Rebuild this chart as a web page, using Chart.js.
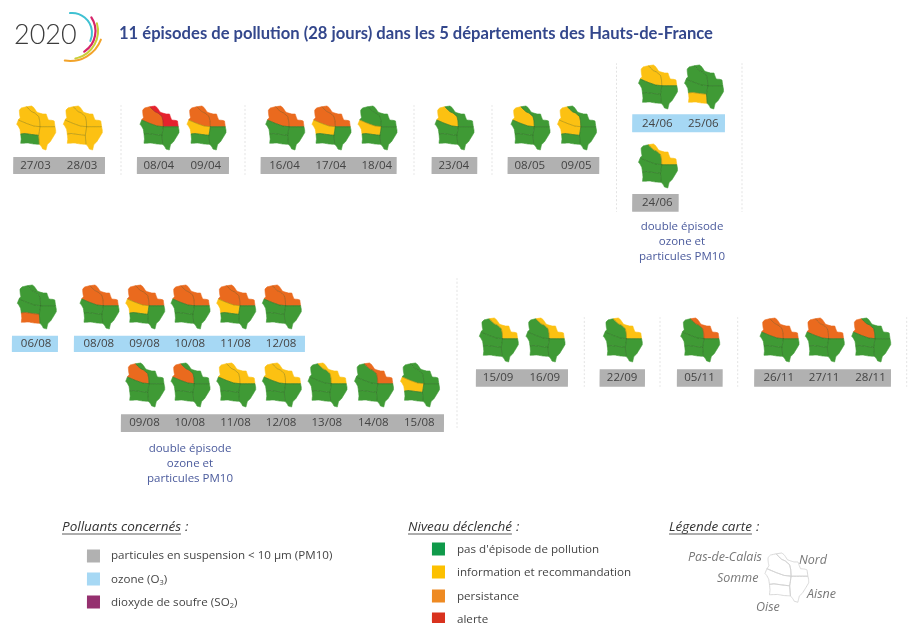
<!DOCTYPE html>
<html lang="fr"><head><meta charset="utf-8">
<script src="https://cdn.jsdelivr.net/npm/chart.js@4"></script>
<style>html,body{margin:0;padding:0;background:#fff}canvas{display:block}</style>
</head><body><canvas id="c" width="912" height="623"></canvas>
<script>
// ---- data: one entry per small map. Levels: 0 none, 1 information, 2 persistance, 3 alerte
const mapDates = ["27/03","28/03","08/04","09/04","16/04","17/04","18/04","23/04","08/05","09/05","24/06","25/06","24/06","06/08","08/08","09/08","10/08","11/08","12/08","09/08","10/08","11/08","12/08","13/08","14/08","15/08","15/09","16/09","22/09","05/11","26/11","27/11","28/11"];
const pasDeCalais = [1,1,2,2,2,2,0,1,1,1,1,0,0,0,2,2,2,2,2,2,2,1,1,0,0,0,0,0,0,0,2,2,2];
const nord        = [1,1,3,2,2,2,0,0,0,0,1,0,1,0,2,2,2,2,2,0,0,1,1,1,2,0,1,1,1,2,2,2,0];
const somme       = [1,1,0,1,0,1,1,0,0,1,0,0,0,0,0,1,0,1,0,0,0,0,0,0,0,1,0,0,0,0,0,0,0];
const oise        = [0,1,0,0,0,0,0,0,0,0,0,1,0,2,0,0,0,0,0,0,0,0,0,0,0,0,0,0,0,0,0,0,0];
const aisne       = [1,1,0,0,0,0,0,0,0,0,0,0,0,0,0,0,0,0,0,0,0,0,0,0,0,0,0,0,0,0,0,0,0];
const pollutantLabels = ["particules en suspension < 10 µm (PM10)","ozone (O","dioxyde de soufre (SO"];
const levelLabels = ["pas d'épisode de pollution","information et recommandation","persistance","alerte"];
const departmentLabels = ["Pas-de-Calais","Nord","Somme","Aisne","Oise"];
const titleText = "11 épisodes de pollution (28 jours) dans les 5 départements des Hauts-de-France";
const doubleLines = ["double épisode","ozone et","particules PM10"];

// ---- layout
const mapX = [16.7,63.3,140,187,265.7,312,358,435,511,557.5,638.5,684.5,638.5,17.3,80,125.7,171,216.7,262.3,125.7,171,216.7,262.3,308,354.5,400.5,479.3,526,603.3,680.7,760,805.3,851.7];
const mapY = [106,106,106,106,106,106,106,106,106,106,65,65,144,285,285,285,285,285,285,363,363,363,363,363,363,363,318,318,318,318,318,318,318];
const levelColors = ["#3f9a35","#fcc112","#ea6a1e","#e5222d"];
const pollutantColors = ["#b1b1b1","#a6d8f4","#95306f"];
const legendLevelColors = ["#0f9a4a","#fcc000","#ee8a22","#d9321e"];
const bandRows = [[13.3,105,157,174,0],[137,229,157,174,0],[260.7,396.7,157,174,0],[431.7,477.3,157,174,0],[507.7,599.3,157,174,0],[632.3,725,114.3,132.3,1],[632.3,678.7,194,211.7,0],[12,58,335.7,352,1],[74,305,335.7,352,1],[121,444,414.3,432,0],[476,568,369.3,386.7,0],[599.7,645,369.3,386.7,0],[677,722.7,369.3,386.7,0],[754.3,891,369.3,386.7,0]];
const dividers = [[121,105,175],[245,105,175],[414,105,175],[492,105,175],[616.5,63,212],[742,63,212],[457,278,428],[584.3,317,387],[660,317,387],[737.7,317,387],[906.7,317,387]];

// ---- map geometry (local units)
const shapePasDeCalais = [[2.7,4],[5,1.8],[10,.7],[12,3],[15,5.7],[18,7],[22,10.5],[23,15],[23.3,20.7],[17,20],[10,17.5],[1.7,14],[3.5,11.5],[3,9],[2.7,6]];
const shapeNord = [[10,.7],[15,0],[17,1.5],[18.3,3.3],[20,6],[23.5,7.3],[26,8],[29.5,8],[30.5,11],[31.7,14],[35,14.3],[37.5,15],[38.3,20.7],[23.3,20.7],[23,15],[22,10.5],[18,7],[15,5.7],[12,3]];
const shapeSomme = [[1.7,14],[10,17.5],[17,20],[23.3,20.7],[22.7,25],[22,29.3],[15,28.5],[8,27.5],[4,28],[3.3,23.3],[1.5,20],[0,18.3]];
const shapeOise = [[4,28],[8,27.5],[15,28.5],[22,29.3],[22.3,33],[22.7,38.3],[17,38],[11,37],[4,37.3],[4.5,33]];
const shapeAisne = [[23.3,20.7],[38.3,20.7],[39,24],[39,26.7],[36,31.7],[33.3,36],[30.7,38.3],[30,41],[29.3,44],[26,43],[25,41],[22.7,38.3],[22.3,33],[22,29.3],[22.7,25]];
const innerBorders = [[[10,.7],[12,3],[15,5.7],[18,7],[22,10.5],[23,15],[23.3,20.7]],[[1.7,14],[10,17.5],[17,20],[23.3,20.7],[38.3,20.7]],[[4,28],[8,27.5],[15,28.5],[22,29.3]],[[23.3,20.7],[22.7,25],[22,29.3],[22.3,33],[22.7,38.3]]];

const shapes = [shapePasDeCalais,shapeNord,shapeSomme,shapeOise,shapeAisne];
const levelsByDept = [pasDeCalais,nord,somme,oise,aisne];

function place(pts,ox,oy,s=1){return pts.map(p=>({x:ox+p[0]*s,y:oy+p[1]*s}));}
function closed(pts){return pts.concat([pts[0]]);}
// a tiny tension keeps Chart.js off its x-merging fast path, which would distort such small shapes
function poly(data,bg,bc,bw){return {type:'scatter',data,showLine:true,fill:'shape',backgroundColor:bg,borderColor:bc,borderWidth:bw,pointRadius:0,tension:.001};}
function line(data,bc,bw,extra){return Object.assign({type:'scatter',data,showLine:true,fill:false,borderColor:bc,borderWidth:bw,pointRadius:0,tension:.001},extra||{});}
function rect(x0,x1,y0,y1,col){return poly([{x:x0,y:y0},{x:x1,y:y0},{x:x1,y:y1},{x:x0,y:y1},{x:x0,y:y0}],col,'rgba(0,0,0,0)',0);}

const datasets = [];
bandRows.forEach(b=>datasets.push(rect(b[0],b[1],b[2],b[3],pollutantColors[b[4]])));
dividers.forEach(d=>datasets.push(line([{x:d[0],y:d[1]},{x:d[0],y:d[2]}],'#e3e3e3',1,{borderDash:[2,2]})));
mapDates.forEach((d,i)=>{
  shapes.forEach((s,k)=>{
    const col = levelColors[levelsByDept[k][i]];
    datasets.push(poly(closed(place(s,mapX[i],mapY[i])),col,col,.6));
  });
  innerBorders.forEach(b=>datasets.push(line(place(b,mapX[i],mapY[i]),'rgba(30,60,20,.38)',.7)));
});
const legX=765,legY=553,legS=1.12;
shapes.forEach(s=>datasets.push(line(closed(place(s,legX,legY,legS)),'#cfcfcf',.8)));
[556,579,602].forEach((y,i)=>datasets.push(rect(87,100,y-6.5,y+6.5,pollutantColors[i])));
[549,572,596,619].forEach((y,i)=>datasets.push(rect(432,445,y-6.5,y+6.5,legendLevelColors[i])));
// Chart.js paints the first dataset last, so list them back to front in reverse
datasets.reverse();

const textPlugin = {id:'texts',afterDatasetsDraw(chart){
  const c=chart.ctx,X=chart.scales.x,Y=chart.scales.y;
  const t=(s,x,y,font,col,al)=>{c.font=font;c.fillStyle=col;c.textAlign=al||'left';c.textBaseline='middle';c.fillText(s,X.getPixelForValue(x),Y.getPixelForValue(y));return x+c.measureText(s).width;};
  const u=(x0,x1,y)=>{c.strokeStyle='#333';c.lineWidth=.8;c.beginPath();c.moveTo(X.getPixelForValue(x0),Y.getPixelForValue(y));c.lineTo(X.getPixelForValue(x1),Y.getPixelForValue(y));c.stroke();};
  t("2020",14,35,"300 27px Lato","#3c3c3c");
  const arcs=[[72,33,20,-1.67,.41,'#3fc1d2',2],[71,31,24.5,-.59,1,'#d6246a',2.2],[70,31,28,-.28,1.38,'#c9cf3a',2],[70,28,33,.36,1.73,'#f2a32a',2]];
  arcs.forEach(a=>{c.beginPath();c.strokeStyle=a[5];c.lineWidth=a[6];c.lineCap='round';c.arc(a[0],a[1],a[2],a[3],a[4]);c.stroke();});
  c.lineCap='butt';
  t(titleText,119,34,"700 16.6px Lato","#33478c");
  const df="11.5px 'Open Sans'";
  mapDates.forEach((d,i)=>{
    const yc = bandRows.find(b=>mapX[i]+18>=b[0]&&mapX[i]+18<=b[1]&&b[2]>mapY[i]&&b[2]<mapY[i]+60);
    t(d,mapX[i]+18.8,(yc[2]+yc[3])/2,df,"#444",'center');
  });
  doubleLines.forEach((s,i)=>{
    t(s,682,227+15*i,df,"#4a5a9c",'center');
    t(s,190,449+15*i,df,"#4a5a9c",'center');
  });
  const it="italic 13.5px 'Open Sans'";
  [["Polluants concernés",62],["Niveau déclenché",408],["Légende carte",669]].forEach(h=>{
    const e=t(h[0],h[1],527,it,"#333"); u(h[1],e,534); t(":",e+4,527,it,"#333");
  });
  const lf="11.6px 'Open Sans'",lc="#444",sf="7.5px 'Open Sans'";
  t(pollutantLabels[0],111,556,lf,lc);
  let e=t(pollutantLabels[1],111,580,lf,lc); e=t("3",e,583,sf,lc); t(")",e,580,lf,lc);
  e=t(pollutantLabels[2],111,603,lf,lc); e=t("2",e,606,sf,lc); t(")",e,603,lf,lc);
  levelLabels.forEach((s,i)=>t(s,457,[550,573,597,620][i],lf,lc));
  const mf="italic 12.5px 'Open Sans'",mc="#777";
  t(departmentLabels[0],688,557,mf,mc);t(departmentLabels[1],799,560,mf,mc);t(departmentLabels[2],717,578,mf,mc);t(departmentLabels[3],807,594,mf,mc);t(departmentLabels[4],756,607,mf,mc);
}};

new Chart(document.getElementById('c'),{
  type:'scatter',
  data:{datasets},
  options:{responsive:false,animation:false,layout:{padding:0},
    plugins:{legend:{display:false},tooltip:{enabled:false},title:{display:false}},
    scales:{x:{type:'linear',min:0,max:912,display:false},y:{type:'linear',min:0,max:623,reverse:true,display:false}}},
  plugins:[textPlugin]
});
</script></body></html>
